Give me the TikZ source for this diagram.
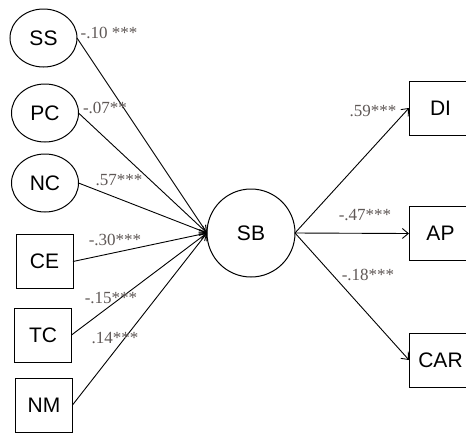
\documentclass[tikz,border=0pt]{standalone}
\usepackage{fontspec}
\setmainfont{Liberation Sans}
\newfontfamily\lblfont{Liberation Serif}
\usetikzlibrary{shapes.geometric,arrows.meta}
\definecolor{lblgray}{RGB}{95,88,86}
\begin{document}
\begin{tikzpicture}[x=1pt,y=-1pt,
  every node/.style={inner sep=0pt,outer sep=0pt},
  ellbox/.style={draw,line width=1pt,ellipse,minimum width=67pt,minimum height=58pt,font=\fontsize{21}{21}\selectfont},
  sqbox/.style={draw,line width=1pt,rectangle,minimum width=57pt,minimum height=54pt,font=\fontsize{21}{21}\selectfont},
  rbox/.style={draw,line width=1pt,rectangle,minimum width=63pt,minimum height=54pt,font=\fontsize{21}{21}\selectfont},
  mcirc/.style={draw,line width=1pt,circle,minimum size=88pt,font=\fontsize{21}{21}\selectfont},
  conn/.style={line width=0.9pt,-{Straight Barb[length=6pt,width=10pt]}},
  coef/.style={text=lblgray,font=\lblfont\fontsize{17}{17}\selectfont}
]
\clip (0,0) rectangle (466,432);
\node[ellbox] (ss) at (43.5,38) {SS};
\node[ellbox] (pc) at (45,113) {PC};
\node[ellbox] (nc) at (45,183) {NC};
\node[sqbox] (ce) at (44.5,261.5) {CE};
\node[sqbox] (tc) at (43,335) {TC};
\node[sqbox] (nm) at (44,405) {NM};
\node[mcirc] (sb) at (251,233) {SB};
\node[rbox] (di) at (440.5,108) {DI};
\node[rbox] (ap) at (440.5,233.5) {AP};
\node[rbox] (car) at (440.5,360) {CAR};

\foreach \n in {ss,pc,nc,ce,tc,nm}{\draw[conn] (\n.east) -- (sb.west);}
\draw[conn] (sb.east) -- (di.west);
\draw[conn] (sb.east) -- (ap.west);
\draw[conn] (sb.east) -- (car.west);

\node[coef] (l1) at (109,33) {-.10 ***};
\node[coef] (l2) at (105,108) {-.07**};
\node[coef] (l3) at (119,180) {.57***};
\node[coef] (l4) at (115,240) {-.30***};
\node[coef] (l5) at (111,298) {-.15***};
\node[coef] (l6) at (115,338) {.14***};
\node[coef] (l7) at (373,111) {.59***};
\node[coef] (l8) at (365,215) {-.47***};
\node[coef] (l9) at (368,275) {-.18***};
\end{tikzpicture}
\end{document}
